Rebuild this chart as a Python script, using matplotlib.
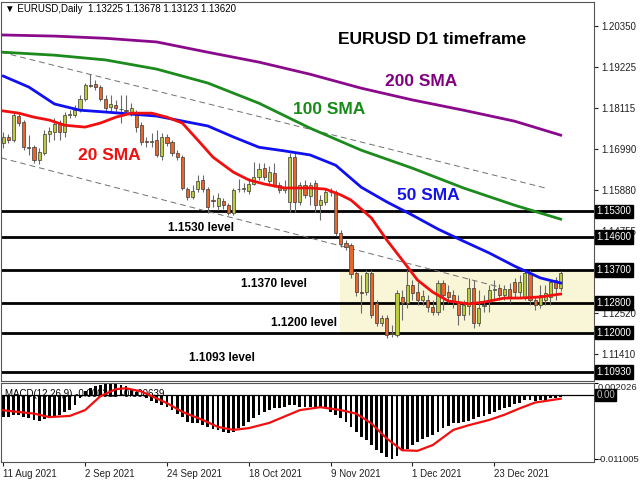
import matplotlib
matplotlib.use('Agg')
import matplotlib.pyplot as plt
import matplotlib.transforms as mtransforms
import numpy as np

plt.rcParams['font.family'] = ['Liberation Sans', 'DejaVu Sans']

# daily bars, 11 Aug 2021 .. 11 Jan 2022
opens = [1.1716, 1.1733, 1.1725, 1.1790, 1.1774, 1.1705, 1.1705, 1.1670, 1.1689, 1.1741,
         1.1746, 1.1771, 1.1746, 1.1793, 1.1793, 1.1806, 1.1836, 1.1874, 1.1877, 1.1869,
         1.1836, 1.1814, 1.1820, 1.1809, 1.1806, 1.1798, 1.1798, 1.1765, 1.1722, 1.1720,
         1.1725, 1.1681, 1.1733, 1.1719, 1.1689, 1.1678, 1.1591, 1.1569, 1.1591, 1.1616,
         1.1591, 1.1561, 1.1545, 1.1558, 1.1547, 1.1526, 1.1590, 1.1592, 1.1586, 1.1605,
         1.1624, 1.1648, 1.1613, 1.1635, 1.1602, 1.1588, 1.1556, 1.1678, 1.1556, 1.1602,
         1.1572, 1.1607, 1.1547, 1.1556, 1.1583, 1.1583, 1.1471, 1.1444, 1.1438, 1.1362,
         1.1310, 1.1310, 1.1362, 1.1280, 1.1226, 1.1240, 1.1196, 1.1193, 1.1297, 1.1280,
         1.1329, 1.1310, 1.1289, 1.1289, 1.1269, 1.1256, 1.1335, 1.1310, 1.1302, 1.1283,
         1.1248, 1.1272, 1.1321, 1.1226, 1.1272, 1.1283, 1.1316, 1.1321, 1.1302, 1.1318,
         1.1337, 1.1310, 1.1294, 1.1362, 1.1289, 1.1275, 1.1289, 1.1297, 1.1343, 1.13225]
highs = [1.1746, 1.1741, 1.1801, 1.1795, 1.1779, 1.1738, 1.1711, 1.1703, 1.1752, 1.1760,
         1.1784, 1.1779, 1.1801, 1.1806, 1.1820, 1.1847, 1.1880, 1.1904, 1.1888, 1.1874,
         1.1847, 1.1847, 1.1834, 1.1847, 1.1847, 1.1825, 1.1806, 1.1774, 1.1733, 1.1744,
         1.1752, 1.1744, 1.1741, 1.1725, 1.1697, 1.1684, 1.1596, 1.1602, 1.1629, 1.1629,
         1.1596, 1.1575, 1.1580, 1.1566, 1.1553, 1.1594, 1.1618, 1.1607, 1.1621, 1.1665,
         1.1662, 1.1662, 1.1654, 1.1662, 1.1610, 1.1616, 1.1689, 1.1689, 1.1610, 1.1616,
         1.1610, 1.1616, 1.1575, 1.1594, 1.1594, 1.1588, 1.1479, 1.1452, 1.1444, 1.1368,
         1.1357, 1.1370, 1.1370, 1.1289, 1.1248, 1.1248, 1.1220, 1.1316, 1.1316, 1.1370,
         1.1343, 1.1337, 1.1316, 1.1302, 1.1289, 1.1343, 1.1343, 1.1329, 1.1316, 1.1302,
         1.1289, 1.1348, 1.1343, 1.1316, 1.1302, 1.1329, 1.1343, 1.1332, 1.1329, 1.1335,
         1.1348, 1.1357, 1.1368, 1.1370, 1.1300, 1.1329, 1.1329, 1.1343, 1.1351, 1.13678]
lows = [1.1703, 1.1716, 1.1719, 1.1763, 1.1697, 1.1684, 1.1662, 1.1659, 1.1684, 1.1719,
        1.1725, 1.1725, 1.1733, 1.1784, 1.1787, 1.1801, 1.1831, 1.1869, 1.1861, 1.1831,
        1.1801, 1.1801, 1.1798, 1.1771, 1.1798, 1.1790, 1.1746, 1.1711, 1.1706, 1.1706,
        1.1678, 1.1670, 1.1708, 1.1681, 1.1670, 1.1588, 1.1561, 1.1564, 1.1583, 1.1583,
        1.1526, 1.1542, 1.1534, 1.1536, 1.1520, 1.1520, 1.1583, 1.1583, 1.1577, 1.1602,
        1.1616, 1.1616, 1.1602, 1.1596, 1.1580, 1.1580, 1.1528, 1.1528, 1.1547, 1.1567,
        1.1547, 1.1528, 1.1507, 1.1547, 1.1572, 1.1463, 1.1433, 1.1425, 1.1349, 1.1299,
        1.1253, 1.1302, 1.1240, 1.1218, 1.1218, 1.1186, 1.1188, 1.1188, 1.1234, 1.1267,
        1.1289, 1.1275, 1.1275, 1.1256, 1.1248, 1.1248, 1.1261, 1.1280, 1.1267, 1.1220,
        1.1234, 1.1248, 1.1212, 1.1218, 1.1256, 1.1256, 1.1289, 1.1289, 1.1289, 1.1280,
        1.1297, 1.1294, 1.1289, 1.1275, 1.1261, 1.1267, 1.1275, 1.1275, 1.1289, 1.13123]
closes = [1.1733, 1.1725, 1.1793, 1.1771, 1.1705, 1.1703, 1.1670, 1.1692, 1.1741, 1.1749,
          1.1768, 1.1746, 1.1793, 1.1795, 1.1806, 1.1836, 1.1874, 1.1871, 1.1869, 1.1836,
          1.1812, 1.1823, 1.1812, 1.1808, 1.1804, 1.1812, 1.1760, 1.1719, 1.1720, 1.1721,
          1.1684, 1.1733, 1.1716, 1.1689, 1.1678, 1.1594, 1.1569, 1.1586, 1.1613, 1.1591,
          1.1542, 1.1559, 1.1566, 1.1547, 1.1526, 1.1588, 1.1591, 1.1594, 1.1605, 1.1624,
          1.1645, 1.1624, 1.1637, 1.1602, 1.1588, 1.1596, 1.1678, 1.1556, 1.1602, 1.1575,
          1.1602, 1.1547, 1.1561, 1.1583, 1.1582, 1.1471, 1.1441, 1.1433, 1.1359, 1.1310,
          1.1308, 1.1362, 1.1248, 1.1226, 1.1240, 1.1193, 1.1199, 1.1308, 1.1280, 1.1329,
          1.1308, 1.1289, 1.1300, 1.1269, 1.1256, 1.1335, 1.1302, 1.1297, 1.1283, 1.1248,
          1.1275, 1.1321, 1.1226, 1.1267, 1.1275, 1.1316, 1.1318, 1.1302, 1.1318, 1.1297,
          1.1310, 1.1337, 1.1362, 1.1289, 1.1275, 1.1302, 1.1308, 1.1337, 1.1322, 1.13620]

# moving averages, sampled along the drawn lines (bar index, price)
sma200Idx = [0, 10, 20, 30, 40, 50, 60, 70, 80, 90, 100, 109]
sma200 = [1.2011, 1.2008, 1.2002, 1.1992, 1.1964, 1.1937, 1.1904, 1.1866, 1.1834, 1.1806, 1.1776, 1.1738]
sma100Idx = [0, 10, 20, 30, 40, 50, 60, 70, 80, 90, 100, 109]
sma100 = [1.1964, 1.1956, 1.1943, 1.1918, 1.1880, 1.1825, 1.1757, 1.1697, 1.1648, 1.1594, 1.1547, 1.1509]
sma50Idx = [0, 5, 10, 15, 20, 30, 40, 45, 50, 55, 60, 65, 70, 75, 80, 85, 90, 95, 100, 105, 109]
sma50 = [1.1899, 1.1869, 1.1823, 1.1806, 1.1801, 1.1790, 1.1763, 1.1733, 1.1705, 1.1695, 1.1684,
         1.1656, 1.1596, 1.1556, 1.1520, 1.1482, 1.1449, 1.1417, 1.1381, 1.1349, 1.1335]
sma20Idx = [0, 3, 6, 9, 12, 16, 19, 22, 25, 29, 32, 35, 38, 41, 45, 48, 51, 55, 60, 63, 66, 68,
            72, 75, 78, 81, 84, 87, 91, 94, 98, 101, 105, 109]
sma20 = [1.1804, 1.1798, 1.1787, 1.1779, 1.1765, 1.1760, 1.1771, 1.1787, 1.1798, 1.1798, 1.1787,
         1.1771, 1.1725, 1.1678, 1.1637, 1.1616, 1.1605, 1.1594, 1.1594, 1.1591, 1.1575, 1.1561,
         1.1512, 1.1452, 1.1398, 1.1343, 1.1310, 1.1286, 1.1278, 1.1283, 1.1294, 1.1294, 1.1297, 1.1305]

# channel (dashed) lines: (bar index, price) end points
channelTop = ([-0.4, 106], [1.1964, 1.1594])
channelBottom = ([-0.4, 97], [1.1676, 1.1324])

levels = [1.1530, 1.1460, 1.1370, 1.1280, 1.1200, 1.1093]
priceTicks = [1.20350, 1.19225, 1.18115, 1.16990, 1.15880, 1.14755, 1.12520, 1.11410]

macdHist = [-0.0037, -0.0038, -0.0034, -0.0034, -0.0037, -0.0040, -0.0043, -0.0044, -0.0042, -0.0040,
            -0.0037, -0.0034, -0.0029, -0.0025, -0.0017, -0.0006, 0.0006, 0.0012, 0.0015, 0.0017,
            0.0019, 0.0020, 0.00203, 0.0018, 0.0015, 0.0011, 0.0005, -0.0002, -0.0006, -0.0010,
            -0.0014, -0.0017, -0.0020, -0.0025, -0.0032, -0.0037, -0.0046, -0.0049, -0.0049, -0.0052,
            -0.0055, -0.0059, -0.0061, -0.0063, -0.0066, -0.0063, -0.0057, -0.0053, -0.0046, -0.0040,
            -0.0034, -0.0029, -0.0026, -0.0023, -0.0023, -0.0020, -0.0017, -0.0017, -0.0020, -0.0020,
            -0.0020, -0.0020, -0.0023, -0.0023, -0.0029, -0.0034, -0.0040, -0.0046, -0.0055, -0.0063,
            -0.0072, -0.0077, -0.0086, -0.0095, -0.0100, -0.0107, -0.0110, -0.0105, -0.0097, -0.0092,
            -0.0086, -0.0080, -0.0076, -0.0072, -0.0069, -0.0063, -0.0057, -0.0053, -0.0049, -0.0048,
            -0.0046, -0.0044, -0.0042, -0.0038, -0.0036, -0.0032, -0.0029, -0.0026, -0.0023, -0.0020,
            -0.0016, -0.0013, -0.0009, -0.0009, -0.0010, -0.0009, -0.0008, -0.0006, -0.0006, -0.0004]
signalIdx = [-0.4, 6, 9, 13, 16, 19, 22, 24, 27, 30, 32, 35, 39, 42, 45, 48, 52, 55, 58, 62, 66, 69,
             72, 75, 78, 81, 84, 88, 91, 95, 98, 101, 104, 109]
signal = [-0.0026, -0.0032, -0.0038, -0.0036, -0.0026, -0.0002, 0.0010, 0.00115, 0.0006, -0.0006,
          -0.0014, -0.0029, -0.0043, -0.0055, -0.0060, -0.0057, -0.0048, -0.0037, -0.0026, -0.0021,
          -0.0026, -0.0032, -0.0049, -0.0075, -0.0095, -0.0096, -0.0086, -0.0060, -0.0052, -0.0043,
          -0.0034, -0.0023, -0.0013, -0.00064]
macdMax, macdMin = 0.002026, -0.011005

dateBars = [0, 16, 32, 48, 64, 80, 96]
dateLabels = ['11 Aug 2021', '2 Sep 2021', '24 Sep 2021', '18 Oct 2021', '9 Nov 2021', '1 Dec 2021', '23 Dec 2021']

bullColor = '#bccb3c'
bearColor = '#e8662c'


def figText(fig, px, py, s, **kw):
    # place text using pixel position of a 640x480 canvas
    fig.text(px / 640, 1 - py / 480, s, **kw)


def drawCandles(ax):
    x = np.arange(len(opens))
    o = np.array(opens)
    c = np.array(closes)
    ax.vlines(x, lows, highs, color='#6a6a6a', lw=0.8, zorder=3)
    colors = np.where(c >= o, bullColor, bearColor)
    ax.bar(x, np.maximum(np.abs(c - o), 0.00008), bottom=np.minimum(o, c), width=0.62,
           color=colors, edgecolor='#3a3a3a', linewidth=0.5, zorder=4)


fig = plt.figure(figsize=(6.4, 4.8), dpi=100)
ax = fig.add_axes([0.002, 0.2063, 0.926, 0.7896])
mx = fig.add_axes([0.002, 0.0375, 0.926, 0.1646], sharex=ax)

xmin, xmax = -0.4, 115.5
ax.set_xlim(xmin, xmax)
ax.set_ylim(1.1068, 1.2101)

# yellow range box
ax.fill_between([65.9, xmax], 1.1200, 1.1370, color='#f8f6d6', lw=0, zorder=1)

for lv in levels:
    ax.axhline(lv, color='black', lw=2.0, zorder=2)

ax.plot(*channelTop, color='#707070', lw=0.7, dashes=(6, 4), zorder=2)
ax.plot(*channelBottom, color='#707070', lw=0.7, dashes=(6, 4), zorder=2)

drawCandles(ax)

ax.plot(sma200Idx, sma200, color='#8b0a8b', lw=2.0, zorder=5)
ax.plot(sma100Idx, sma100, color='#1c8a1c', lw=2.0, zorder=5)
ax.plot(sma50Idx, sma50, color='#1010f0', lw=2.0, zorder=5)
ax.plot(sma20Idx, sma20, color='#f01010', lw=2.0, zorder=5)

ax.yaxis.tick_right()
ax.set_yticks(priceTicks)
ax.set_yticklabels([f'{v:.5f}' for v in priceTicks])
ax.tick_params(axis='y', length=3, labelsize=7, pad=2, colors='#222222')
ax.tick_params(axis='x', bottom=False, labelbottom=False)
for sp in ax.spines.values():
    sp.set_color('#555555')
    sp.set_linewidth(0.8)

trans = mtransforms.blended_transform_factory(ax.transAxes, ax.transData)
for lv in levels:
    ax.text(1.004, lv, f'{lv:.5f}', transform=trans, ha='left', va='center', fontsize=7,
            color='white', clip_on=False, zorder=10,
            bbox=dict(boxstyle='square,pad=0.18', fc='black', ec='black'))

# annotations
figText(fig, 5, 9, '\u25bc EURUSD,Daily  1.13225 1.13678 1.13123 1.13620', fontsize=7, va='center')
figText(fig, 432, 40, 'EURUSD D1 timeframe', fontsize=12.5, fontweight='bold', ha='center', va='center')
figText(fig, 421, 82, '200 SMA', fontsize=12.5, fontweight='bold', color='#800080', ha='center', va='center')
figText(fig, 329, 110, '100 SMA', fontsize=12.5, fontweight='bold', color='#178a17', ha='center', va='center')
figText(fig, 109, 155, '20 SMA', fontsize=12.5, fontweight='bold', color='#f01010', ha='center', va='center')
figText(fig, 428, 195, '50 SMA', fontsize=12.5, fontweight='bold', color='#1414e6', ha='center', va='center')
figText(fig, 201, 228, '1.1530 level', fontsize=8.5, fontweight='bold', ha='center', va='center')
figText(fig, 274, 284, '1.1370 level', fontsize=8.5, fontweight='bold', ha='center', va='center')
figText(fig, 304, 323, '1.1200 level', fontsize=8.5, fontweight='bold', ha='center', va='center')
figText(fig, 222, 358, '1.1093 level', fontsize=8.5, fontweight='bold', ha='center', va='center')

# MACD panel
mx.set_ylim(-0.01152, 0.00206)
mx.bar(np.arange(len(macdHist)), macdHist, width=0.55, color='black', zorder=2)
mx.axhline(0, color='black', lw=0.9, zorder=2)
mx.plot(signalIdx, signal, color='#f01010', lw=1.6, zorder=3)
mx.text(0.006, 0.93, 'MACD(12,26,9) -0.000311 -0.000639', transform=mx.transAxes,
        fontsize=7, va='top', ha='left', zorder=1)

mx.yaxis.tick_right()
mx.set_yticks([macdMax, macdMin])
mx.tick_params(axis='y', length=3, labelright=False)
mtrans = mtransforms.blended_transform_factory(mx.transAxes, mx.transData)
mx.text(1.006, macdMax, f'{macdMax:.6f}', transform=mtrans, ha='left', va='top', fontsize=6.8,
        color='#222222', clip_on=False)
mx.text(1.006, macdMin, f'{macdMin:.6f}', transform=mtrans, ha='left', va='center', fontsize=6.8,
        color='#222222', clip_on=False)
mx.text(1.004, 0, '0.00', transform=mtrans, ha='left', va='center', fontsize=7,
        color='#bbbbbb', clip_on=False, zorder=10,
        bbox=dict(boxstyle='square,pad=0.1', fc='black', ec='black'))

mx.set_xticks(dateBars)
mx.set_xticklabels(dateLabels)
for lbl in mx.get_xticklabels():
    lbl.set_ha('left')
mx.tick_params(axis='x', length=3, labelsize=7, pad=2, colors='#222222')
for sp in mx.spines.values():
    sp.set_color('#555555')
    sp.set_linewidth(0.8)

fig.savefig('out.png', dpi=100, facecolor='white')
